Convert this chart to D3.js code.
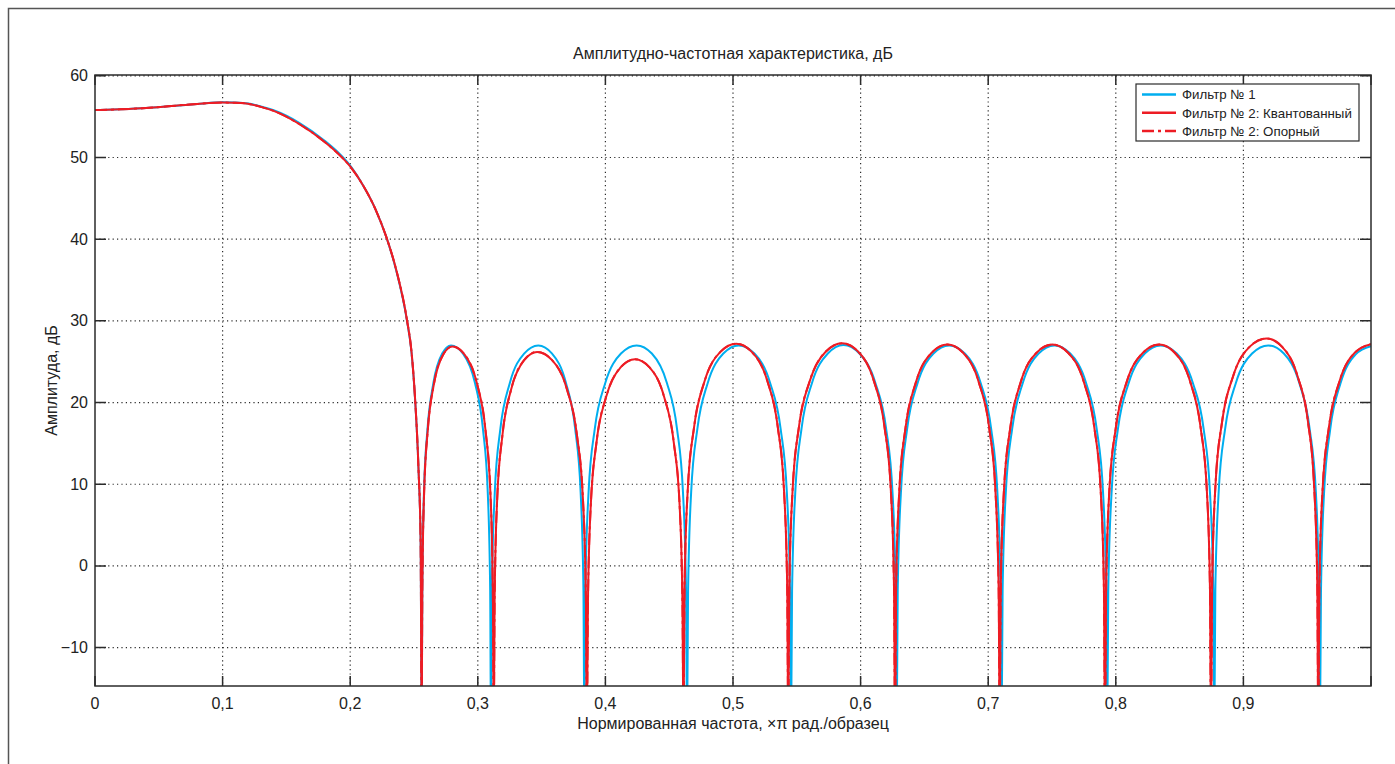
<!DOCTYPE html>
<html>
<head>
<meta charset="utf-8">
<script src="https://cdn.jsdelivr.net/npm/d3@7"></script>
<style>
  body { margin: 0; background: #fff; }
  text { font-family: "Liberation Sans", Arial, sans-serif; fill: #222; }
</style>
</head>
<body>
<svg id="chart" width="1395" height="764"></svg>
<script>
//* Data
const xTicks = [0, 0.1, 0.2, 0.3, 0.4, 0.5, 0.6, 0.7, 0.8, 0.9, 1.0];
const xTickLabels = ["0", "0,1", "0,2", "0,3", "0,4", "0,5", "0,6", "0,7", "0,8", "0,9", ""];
const yTicks = [-10, 0, 10, 20, 30, 40, 50, 60];
const seriesNames = ["Фильтр № 1", "Фильтр № 2: Квантованный", "Фильтр № 2: Опорный"];

// Фильтр № 1  [частота ×π, дБ]
const filter1 = [
  [0, 55.8], [0.02, 55.9], [0.04, 56.05], [0.06, 56.3], [0.08, 56.55], [0.10, 56.75],
  [0.11, 56.72], [0.12, 56.6], [0.13, 56.25], [0.14, 55.78], [0.16, 54.25], [0.18, 52.05],
  [0.19, 50.7], [0.20, 49.0], [0.21, 46.6], [0.22, 43.6], [0.228, 40.4], [0.236, 36.2],
  [0.2445, 30], [0.248, 26.2], [0.2508, 20.5], [0.2535, 12], [0.2552, 3], [0.2560, -20],
  [0.2565, -3], [0.2578, 9], [0.2606, 16.8], [0.2652, 22.4], [0.2721, 26], [0.2790, 27],
  [0.2884, 26], [0.2978, 22.4], [0.3040, 16.8], [0.3078, 9], [0.3097, -3], [0.3103, -20],
  [0.3110, -3], [0.3133, 9], [0.3177, 16.8], [0.3251, 22.4], [0.3363, 26], [0.3474, 27],
  [0.3582, 26], [0.3691, 22.4], [0.3763, 16.8], [0.3806, 9], [0.3828, -3], [0.3835, -20],
  [0.3843, -3], [0.3868, 9], [0.3917, 16.8], [0.3999, 22.4], [0.4122, 26], [0.4245, 27],
  [0.4364, 26], [0.4482, 22.4], [0.4561, 16.8], [0.4608, 9], [0.4632, -3], [0.4640, -20],
  [0.4648, -3], [0.4672, 9], [0.4721, 16.8], [0.4802, 22.4], [0.4924, 26], [0.5045, 27],
  [0.5168, 26], [0.5291, 22.4], [0.5373, 16.8], [0.5422, 9], [0.5447, -3], [0.5455, -20],
  [0.5463, -3], [0.5488, 9], [0.5537, 16.8], [0.5619, 22.4], [0.5743, 26], [0.5866, 27.05],
  [0.5991, 26], [0.6116, 22.4], [0.6200, 16.8], [0.6250, 9], [0.6275, -3], [0.6283, -20],
  [0.6291, -3], [0.6316, 9], [0.6365, 16.8], [0.6447, 22.4], [0.6571, 26], [0.6694, 27],
  [0.6817, 26], [0.6941, 22.4], [0.7023, 16.8], [0.7072, 9], [0.7097, -3], [0.7105, -20],
  [0.7113, -3], [0.7138, 9], [0.7188, 16.8], [0.7271, 22.4], [0.7395, 26], [0.7519, 27],
  [0.7643, 26], [0.7767, 22.4], [0.7850, 16.8], [0.7900, 9], [0.7925, -3], [0.7933, -20],
  [0.7941, -3], [0.7967, 9], [0.8017, 16.8], [0.8101, 22.4], [0.8227, 26], [0.8352, 27],
  [0.8478, 26], [0.8604, 22.4], [0.8688, 16.8], [0.8738, 9], [0.8764, -3], [0.8772, -20],
  [0.8780, -3], [0.8806, 9], [0.8857, 16.8], [0.8941, 22.4], [0.9068, 26], [0.9195, 27],
  [0.9317, 26], [0.9438, 22.4], [0.9519, 16.8], [0.9568, 9], [0.9592, -3], [0.9600, -20],
  [0.9608, -3.1], [0.9632, 8.9], [0.9680, 16.7], [0.9760, 22.3], [0.9880, 25.9], [1.0, 26.9]
];

// Фильтр № 2 (квантованный и опорный совпадают на графике)
const filter2 = [
  [0, 55.8], [0.02, 55.9], [0.04, 56.05], [0.06, 56.3], [0.08, 56.55], [0.10, 56.72],
  [0.11, 56.7], [0.12, 56.57], [0.13, 56.2], [0.14, 55.7], [0.16, 54.1], [0.18, 51.9],
  [0.19, 50.55], [0.20, 48.9], [0.21, 46.6], [0.22, 43.6], [0.228, 40.4], [0.236, 36.3],
  [0.2445, 30.1], [0.248, 26.3], [0.2508, 20.6], [0.2535, 12], [0.2552, 3], [0.2560, -20],
  [0.2565, -3.15], [0.2579, 8.85], [0.2608, 16.65], [0.2656, 22.25], [0.2728, 25.85], [0.2800, 26.85],
  [0.2898, 25.85], [0.2995, 22.25], [0.3060, 16.65], [0.3099, 8.85], [0.3118, -3.15], [0.3125, -20],
  [0.3132, -3.8], [0.3152, 8.2], [0.3193, 16.0], [0.3261, 21.6], [0.3363, 25.2], [0.3465, 26.2],
  [0.3582, 25.2], [0.3699, 21.6], [0.3777, 16.0], [0.3824, 8.2], [0.3847, -3.8], [0.3855, -20],
  [0.3863, -4.7], [0.3885, 7.3], [0.3930, 15.1], [0.4006, 20.7], [0.4119, 24.3], [0.4232, 25.3],
  [0.4346, 24.3], [0.4460, 20.7], [0.4536, 15.1], [0.4582, 7.3], [0.4604, -4.7], [0.4612, -20],
  [0.4620, -2.8], [0.4645, 9.2], [0.4695, 17.0], [0.4777, 22.6], [0.4901, 26.2], [0.5025, 27.2],
  [0.5147, 26.2], [0.5270, 22.6], [0.5351, 17.0], [0.5400, 9.2], [0.5425, -2.8], [0.5433, -20],
  [0.5441, -2.75], [0.5467, 9.25], [0.5517, 17.05], [0.5602, 22.65], [0.5728, 26.25], [0.5855, 27.25],
  [0.5980, 26.25], [0.6104, 22.65], [0.6187, 17.05], [0.6237, 9.25], [0.6262, -2.75], [0.6270, -20],
  [0.6278, -2.9], [0.6303, 9.1], [0.6352, 16.9], [0.6434, 22.5], [0.6557, 26.1], [0.6680, 27.1],
  [0.6803, 26.1], [0.6926, 22.5], [0.7008, 16.9], [0.7057, 9.1], [0.7082, -2.9], [0.7090, -20],
  [0.7098, -2.9], [0.7123, 9.1], [0.7173, 16.9], [0.7255, 22.5], [0.7379, 26.1], [0.7502, 27.1],
  [0.7626, 26.1], [0.7750, 22.5], [0.7832, 16.9], [0.7882, 9.1], [0.7907, -2.9], [0.7915, -20],
  [0.7924, -2.9], [0.7949, 9.1], [0.8000, 16.9], [0.8085, 22.5], [0.8213, 26.1], [0.8340, 27.1],
  [0.8462, 26.1], [0.8584, 22.5], [0.8665, 16.9], [0.8714, 9.1], [0.8738, -2.9], [0.8746, -20],
  [0.8755, -2.15], [0.8781, 9.85], [0.8833, 17.65], [0.8920, 23.25], [0.9050, 26.85], [0.9180, 27.85],
  [0.9302, 26.85], [0.9424, 23.25], [0.9506, 17.65], [0.9554, 9.85], [0.9579, -2.15], [0.9587, -20],
  [0.9595, -2.85], [0.9620, 9.15], [0.9670, 16.95], [0.9752, 22.55], [0.9876, 26.15], [1.0, 27.15]
];

//* Set chart area
const margin = { top: 75, left: 95 };
const innerWidth = 1276;
const innerHeight = 611;
const blue = "#00aeef";
const red = "#ed1c24";
const ink = "#2b2b2b";

const svg = d3.select("#chart");

// outer figure frame (cropped at right/bottom)
svg.append("path")
  .attr("d", "M8.5,764 V8.5 H1395")
  .attr("fill", "none")
  .attr("stroke", "#555")
  .attr("stroke-width", 1.5);

const g = svg.append("g")
  .attr("transform", `translate(${margin.left}, ${margin.top})`);

const x = d3.scaleLinear().domain([0, 1]).range([0, innerWidth]);
const y = d3.scaleLinear().domain([-14.7, 60.1]).range([innerHeight, 0]);

//* Grid
g.append("g").selectAll("line")
  .data(xTicks.slice(1, -1))
  .join("line")
  .attr("x1", d => x(d)).attr("x2", d => x(d))
  .attr("y1", 0).attr("y2", innerHeight)
  .attr("stroke", ink).attr("stroke-width", 1.2)
  .attr("stroke-dasharray", "1.2,3.2");

g.append("g").selectAll("line")
  .data(yTicks)
  .join("line")
  .attr("x1", 0).attr("x2", innerWidth)
  .attr("y1", d => y(d)).attr("y2", d => y(d))
  .attr("stroke", ink).attr("stroke-width", 1.2)
  .attr("stroke-dasharray", "1.2,3.2");

//* Curves
g.append("clipPath").attr("id", "clip")
  .append("rect").attr("width", innerWidth).attr("height", innerHeight);

const line = d3.line()
  .x(d => x(d[0]))
  .y(d => y(d[1]))
  .curve(d3.curveMonotoneX);

const curves = g.append("g").attr("clip-path", "url(#clip)");

curves.append("path")
  .datum(filter1)
  .attr("d", line)
  .attr("fill", "none")
  .attr("stroke", blue)
  .attr("stroke-width", 2);

curves.append("path")
  .datum(filter2)
  .attr("d", line)
  .attr("fill", "none")
  .attr("stroke", red)
  .attr("stroke-width", 2)
  .attr("stroke-dasharray", "12,4,3,4");

curves.append("path")
  .datum(filter2)
  .attr("d", line)
  .attr("fill", "none")
  .attr("stroke", red)
  .attr("stroke-width", 2);

//* Axes box with inward ticks
const axisG = g.append("g");

axisG.append("rect")
  .attr("width", innerWidth).attr("height", innerHeight)
  .attr("fill", "none").attr("stroke", ink).attr("stroke-width", 1.5);

axisG.selectAll(".xtick")
  .data(xTicks)
  .join("path")
  .attr("class", "xtick")
  .attr("d", d => `M${x(d)},${innerHeight}v-10M${x(d)},0v10`)
  .attr("stroke", ink).attr("stroke-width", 1.5);

axisG.selectAll(".ytick")
  .data(yTicks)
  .join("path")
  .attr("class", "ytick")
  .attr("d", d => `M0,${y(d)}h11M${innerWidth},${y(d)}h-11`)
  .attr("stroke", ink).attr("stroke-width", 1.5);

axisG.selectAll(".xlabel")
  .data(xTicks.slice(0, -1))
  .join("text")
  .attr("class", "xlabel")
  .attr("x", d => x(d))
  .attr("y", innerHeight + 23)
  .attr("text-anchor", "middle")
  .attr("font-size", "16px")
  .text((d, i) => xTickLabels[i]);

axisG.selectAll(".ylabel")
  .data(yTicks)
  .join("text")
  .attr("class", "ylabel")
  .attr("x", -7)
  .attr("y", d => y(d) + 5.5)
  .attr("text-anchor", "end")
  .attr("font-size", "16px")
  .text(d => d < 0 ? "\u2212" + Math.abs(d) : d);

//* Titles
svg.append("text")
  .attr("x", margin.left + innerWidth / 2)
  .attr("y", 59)
  .attr("text-anchor", "middle")
  .attr("font-size", "16px")
  .text("Амплитудно-частотная характеристика, дБ");

svg.append("text")
  .attr("x", margin.left + innerWidth / 2)
  .attr("y", 729)
  .attr("text-anchor", "middle")
  .attr("font-size", "16px")
  .text("Нормированная частота, ×π рад./образец");

svg.append("text")
  .attr("transform", `translate(57, ${margin.top + innerHeight / 2}) rotate(-90)`)
  .attr("text-anchor", "middle")
  .attr("font-size", "16px")
  .text("Амплитуда, дБ");

//* Legend
const legend = svg.append("g").attr("transform", "translate(1136, 84)");

legend.append("rect")
  .attr("width", 223).attr("height", 57)
  .attr("fill", "#fff").attr("stroke", ink).attr("stroke-width", 1.2);

const legendStyles = [
  { color: blue, dash: null },
  { color: red, dash: null },
  { color: red, dash: "12,4,3,4" }
];

const rows = legend.selectAll(".row")
  .data(seriesNames)
  .join("g")
  .attr("class", "row")
  .attr("transform", (d, i) => `translate(0, ${10.5 + i * 18.2})`);

rows.append("line")
  .attr("x1", 6).attr("x2", 40)
  .attr("stroke", (d, i) => legendStyles[i].color)
  .attr("stroke-width", 2.5)
  .attr("stroke-dasharray", (d, i) => legendStyles[i].dash);

rows.append("text")
  .attr("x", 46)
  .attr("y", 4.8)
  .attr("font-size", "13.3px")
  .text(d => d);
</script>
</body>
</html>
